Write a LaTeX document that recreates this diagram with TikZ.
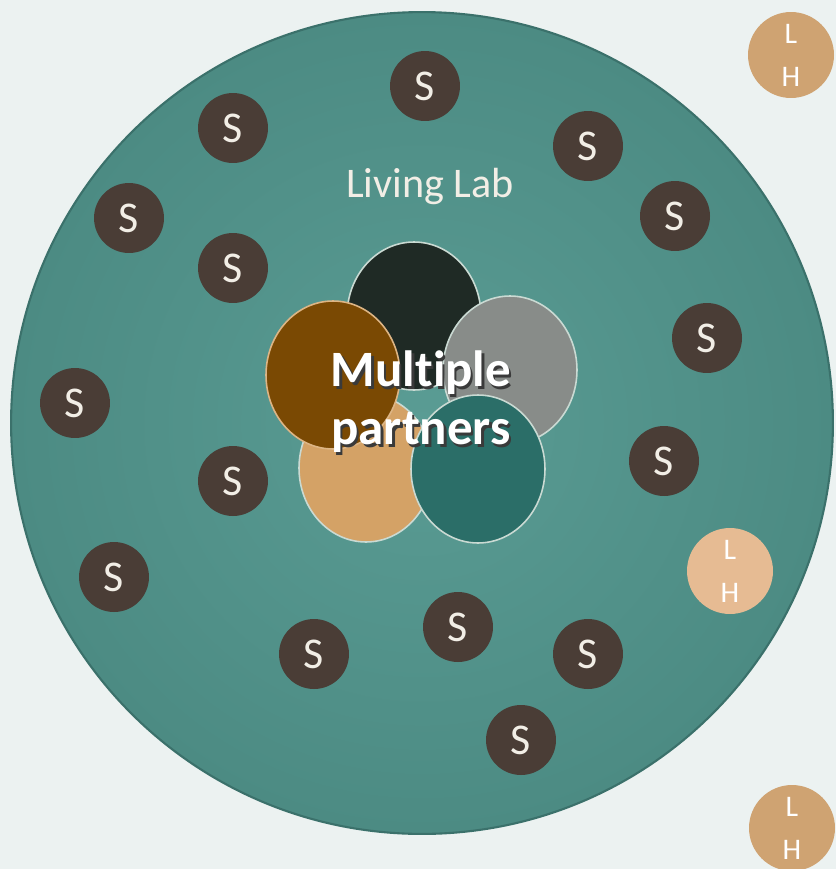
\documentclass[tikz,border=0pt]{standalone}
\usepackage{fontspec}
\setmainfont{Carlito}[Ligatures=NoCommon]
\usetikzlibrary{shapes.geometric}

\definecolor{pagebg}{HTML}{ECF2F1}
\definecolor{labin}{HTML}{5A9C94}
\definecolor{labout}{HTML}{4C8B83}
\definecolor{labrim}{HTML}{3B716B}
\definecolor{stakefill}{HTML}{4A3D36}
\definecolor{stakefont}{HTML}{F2EEE6}
\definecolor{lhtan}{HTML}{CFA372}
\definecolor{lhpeach}{HTML}{E6BB93}
\definecolor{pdark}{HTML}{1F2A25}
\definecolor{pgrey}{HTML}{888C89}
\definecolor{ptan}{HTML}{D4A266}
\definecolor{pteal}{HTML}{2B6E68}
\definecolor{pbrown}{HTML}{7A4903}
\definecolor{prim}{HTML}{CADAD3}
\definecolor{shadowgray}{HTML}{3A3A3A}

\newcommand{\shadowtxt}[1]{\makebox[0pt][l]{\color{shadowgray}\hspace{1.3pt}\raisebox{-1.3pt}{#1}}#1}

\begin{document}
\begin{tikzpicture}[x=0.02cm, y=-0.02cm,
		every node/.style={align=center},
		stake/.style={circle, fill=stakefill, text=stakefont, minimum size=1.4cm, inner sep=0pt, font=\fontsize{25}{25}\selectfont},
		lh/.style={circle, fill=lhtan, text=white, minimum size=1.72cm, inner sep=0pt, font=\fontsize{17}{24.5}\selectfont},
		partner/.style={ellipse, draw=prim, line width=0.9pt, minimum width=2.68cm, minimum height=2.96cm, inner sep=0pt}]
				\useasboundingbox (0,0) rectangle (836,869);
				\fill[pagebg] (0,0) rectangle (836,869);

				% Living lab
				\node (lab) [circle, inner color=labin, outer color=labout, draw=labrim, line width=1.2pt, minimum size=16.44cm] at (422,423) {};
				\node (labname) [text=stakefont, font=\fontsize{24}{24}\selectfont] at (430,186) {Living Lab};

				% Partners
				\node (pdark) [partner, fill=pdark] at (414,316) {};
				\node (pgrey) [partner, fill=pgrey] at (510,370) {};
				\node (ptan) [partner, fill=ptan] at (366,468) {};
				\node (pteal) [partner, fill=pteal] at (478,469) {};
				\node (pbrown) [partner, fill=pbrown, draw=ptan!80!white] at (333,375) {};
				\node (partners) [text=white, font=\fontsize{29}{33}\selectfont\bfseries] at (421,403) {\shadowtxt{Multiple}\\\shadowtxt{partners}};

				% Stakeholders
				\node (stake1) [stake] at (425,86) {S};
				\node (stake2) [stake] at (233,128) {S};
				\node (stake3) [stake] at (588,146) {S};
				\node (stake4) [stake] at (129,218) {S};
				\node (stake5) [stake] at (675,216) {S};
				\node (stake6) [stake] at (233,268) {S};
				\node (stake7) [stake] at (707,338) {S};
				\node (stake8) [stake] at (75,403) {S};
				\node (stake9) [stake] at (664,461) {S};
				\node (stake10) [stake] at (233,481) {S};
				\node (stake11) [stake] at (114,577) {S};
				\node (stake12) [stake] at (314,654) {S};
				\node (stake13) [stake] at (458,627) {S};
				\node (stake14) [stake] at (588,654) {S};
				\node (stake15) [stake] at (521,740) {S};

				% LH
				\node (lh1) [lh] at (791,55) {L\\H};
				\node (lh2) [lh, fill=lhpeach] at (730,571) {L\\H};
				\node (lh3) [lh] at (792,828) {L\\H};
			\end{tikzpicture}
\end{document}
